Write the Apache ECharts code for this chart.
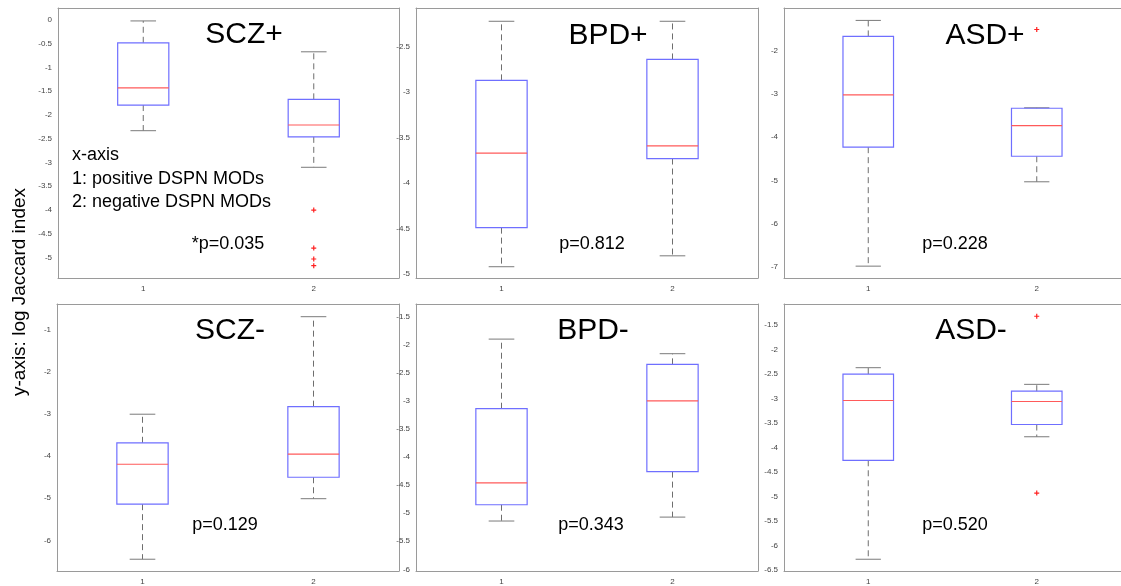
<!DOCTYPE html>
<html>
<head>
<meta charset="utf-8">
<script src="https://cdn.jsdelivr.net/npm/echarts@6/dist/echarts.min.js"></script>
<style>
html,body{margin:0;padding:0;background:#fff;}
#chart{width:1121px;height:586px;}
</style>
</head>
<body>
<div id="chart"></div>
<script>
// ---- data ----
const categories = ['1', '2'];
const panelNames = ['SCZ+', 'BPD+', 'ASD+', 'SCZ-', 'BPD-', 'ASD-'];
const pValueLabels = ['*p=0.035', 'p=0.812', 'p=0.228', 'p=0.129', 'p=0.343', 'p=0.520'];
const legendLines = ['x-axis', '1: positive DSPN MODs', '2: negative DSPN MODs'];
const yAxisTitle = 'y-axis: log Jaccard index';

// box stats per group: [lower whisker, Q1, median, Q3, upper whisker]
const sczPosStats = [[-2.33, -1.79, -1.43, -0.48, -0.02], [-3.10, -2.46, -2.21, -1.67, -0.67]];
const bpdPosStats = [[-4.92, -4.49, -3.67, -2.87, -2.22], [-4.80, -3.73, -3.59, -2.64, -2.22]];
const asdPosStats = [[-6.98, -4.23, -3.02, -1.67, -1.30], [-5.03, -4.44, -3.73, -3.33, -3.32]];
const sczNegStats = [[-6.45, -5.14, -4.19, -3.68, -3.00], [-5.01, -4.50, -3.95, -2.82, -0.68]];
const bpdNegStats = [[-5.14, -4.85, -4.46, -3.14, -1.90], [-5.07, -4.26, -3.00, -2.35, -2.16]];
const asdNegStats = [[-6.28, -4.26, -3.04, -2.50, -2.37], [-3.78, -3.53, -3.06, -2.85, -2.71]];

// outliers: [category, value]
const sczPosOutliers = [['2', -4.00], ['2', -4.80], ['2', -5.03], ['2', -5.17]];
const bpdPosOutliers = [];
const asdPosOutliers = [['2', -1.51]];
const sczNegOutliers = [];
const bpdNegOutliers = [];
const asdNegOutliers = [['2', -1.32], ['2', -4.93]];

// y-axis tick values
const sczPosTicks = [0, -0.5, -1, -1.5, -2, -2.5, -3, -3.5, -4, -4.5, -5];
const bpdPosTicks = [-2.5, -3, -3.5, -4, -4.5, -5];
const asdPosTicks = [-2, -3, -4, -5, -6, -7];
const sczNegTicks = [-1, -2, -3, -4, -5, -6];
const bpdNegTicks = [-1.5, -2, -2.5, -3, -3.5, -4, -4.5, -5, -5.5, -6];
const asdNegTicks = [-1.5, -2, -2.5, -3, -3.5, -4, -4.5, -5, -5.5, -6, -6.5];

// y-axis ranges
const yMins = [-5.43, -5.044, -7.254, -6.73, -6.03, -6.52];
const yMaxs = [0.252, -2.074, -1.013, -0.378, -1.275, -1.07];

const allStats = [sczPosStats, bpdPosStats, asdPosStats, sczNegStats, bpdNegStats, asdNegStats];
const allOutliers = [sczPosOutliers, bpdPosOutliers, asdPosOutliers, sczNegOutliers, bpdNegOutliers, asdNegOutliers];
const allTicks = [sczPosTicks, bpdPosTicks, asdPosTicks, sczNegTicks, bpdNegTicks, asdNegTicks];

// ---- layout ----
const FONT = '"Liberation Sans", Arial, Helvetica, sans-serif';
const grids = [
  {left: 58, top: 8, width: 341, height: 270},
  {left: 416, top: 8, width: 342, height: 270},
  {left: 784, top: 8, width: 342, height: 270},
  {left: 57, top: 304, width: 342, height: 271},
  {left: 416, top: 304, width: 342, height: 270},
  {left: 784, top: 304, width: 342, height: 270}
];
const titlePos = [[244, 35], [608, 36], [985, 36], [230, 331], [593, 331], [971, 331]];
const pPos = [[228, 244], [592, 244], [955, 244], [225, 525], [591, 525], [955, 525]];

const AXIS_COLOR = '#9a9a9a';
const LABEL_COLOR = '#444';

function renderBox(params, api) {
  const x = api.value(0);
  const lo = api.coord([x, api.value(1)]);
  const q1 = api.coord([x, api.value(2)]);
  const med = api.coord([x, api.value(3)]);
  const q3 = api.coord([x, api.value(4)]);
  const hi = api.coord([x, api.value(5)]);
  const band = api.size([1, 0])[0];
  const half = band * 0.15;
  const cap = half / 2;
  const cx = lo[0];
  const dashStyle = {stroke: '#6e6e6e', lineWidth: 1, lineDash: [6, 4], fill: null};
  const solidGray = {stroke: '#7a7a7a', lineWidth: 1, fill: null};
  return {
    type: 'group',
    children: [
      {type: 'line', shape: {x1: cx, y1: q3[1], x2: cx, y2: hi[1]}, style: dashStyle},
      {type: 'line', shape: {x1: cx, y1: q1[1], x2: cx, y2: lo[1]}, style: dashStyle},
      {type: 'line', shape: {x1: cx - cap, y1: hi[1], x2: cx + cap, y2: hi[1]}, style: solidGray},
      {type: 'line', shape: {x1: cx - cap, y1: lo[1], x2: cx + cap, y2: lo[1]}, style: solidGray},
      {type: 'rect', shape: {x: cx - half, y: q3[1], width: 2 * half, height: q1[1] - q3[1]},
        style: {stroke: '#6f6fff', lineWidth: 1.2, fill: null}},
      {type: 'line', shape: {x1: cx - half, y1: med[1], x2: cx + half, y2: med[1]},
        style: {stroke: '#ff5a5a', lineWidth: 1.2}}
    ]
  };
}

const xAxes = [], yAxes = [], series = [], graphics = [];
for (let i = 0; i < 6; i++) {
  const tickStyle = {inside: true, length: 4, lineStyle: {color: AXIS_COLOR}};
  xAxes.push({
    type: 'category', gridIndex: i, data: categories, boundaryGap: true, position: 'bottom',
    axisLine: {show: true, onZero: false, lineStyle: {color: AXIS_COLOR, width: 1}},
    axisTick: Object.assign({alignWithLabel: true}, tickStyle),
    axisLabel: {fontSize: 8, color: LABEL_COLOR, margin: 7, fontFamily: FONT},
    splitLine: {show: false}
  });
  xAxes.push({
    type: 'category', gridIndex: i, data: categories, boundaryGap: true, position: 'top',
    axisLine: {show: true, onZero: false, lineStyle: {color: AXIS_COLOR, width: 1}},
    axisTick: Object.assign({alignWithLabel: true}, tickStyle),
    axisLabel: {show: false}, splitLine: {show: false}
  });
  yAxes.push({
    type: 'value', gridIndex: i, min: yMins[i], max: yMaxs[i], position: 'left',
    axisLine: {show: true, onZero: false, lineStyle: {color: AXIS_COLOR, width: 1}},
    axisTick: Object.assign({customValues: allTicks[i]}, tickStyle),
    axisLabel: {customValues: allTicks[i], fontSize: 8, color: LABEL_COLOR, margin: 6, fontFamily: FONT,
      formatter: v => String(v)},
    splitLine: {show: false}
  });
  yAxes.push({
    type: 'value', gridIndex: i, min: yMins[i], max: yMaxs[i], position: 'right',
    axisLine: {show: true, onZero: false, lineStyle: {color: AXIS_COLOR, width: 1}},
    axisTick: Object.assign({customValues: allTicks[i]}, tickStyle),
    axisLabel: {show: false}, splitLine: {show: false}
  });
  const boxData = allStats[i].map((s, k) => [k, s[0], s[1], s[2], s[3], s[4]]);
  series.push({
    type: 'custom', xAxisIndex: 2 * i, yAxisIndex: 2 * i, data: boxData,
    renderItem: renderBox, silent: true, clip: false,
    encode: {x: 0, y: [1, 2, 3, 4, 5]}
  });
  series.push({
    type: 'scatter', xAxisIndex: 2 * i, yAxisIndex: 2 * i, data: allOutliers[i],
    symbol: 'path://M4,0L4,8M0,4L8,4', symbolSize: 5, silent: true,
    itemStyle: {color: 'transparent', borderColor: '#ff2020', borderWidth: 1.2, opacity: 1}
  });
  graphics.push({
    type: 'text', x: titlePos[i][0], y: titlePos[i][1],
    style: {text: panelNames[i], font: '30px ' + FONT, fill: '#000', textAlign: 'center', textVerticalAlign: 'middle'}
  });
  graphics.push({
    type: 'text', x: pPos[i][0], y: pPos[i][1],
    style: {text: pValueLabels[i], font: '18px ' + FONT, fill: '#000', textAlign: 'center', textVerticalAlign: 'middle'}
  });
}
const legendY = [155, 179, 202];
legendLines.forEach((t, k) => {
  graphics.push({
    type: 'text', x: 72, y: legendY[k],
    style: {text: t, font: '18px ' + FONT, fill: '#000', textAlign: 'left', textVerticalAlign: 'middle'}
  });
});
graphics.push({
  type: 'text', x: 20, y: 292, rotation: Math.PI / 2,
  style: {text: yAxisTitle, font: '19px ' + FONT, fill: '#000', textAlign: 'center', textVerticalAlign: 'middle'}
});

const chart = echarts.init(document.getElementById('chart'), null, {renderer: 'canvas'});
chart.setOption({
  animation: false,
  backgroundColor: '#fff',
  grid: grids.map(g => Object.assign({containLabel: false}, g)),
  xAxis: xAxes,
  yAxis: yAxes,
  series: series,
  graphic: graphics
});
</script>
</body>
</html>
